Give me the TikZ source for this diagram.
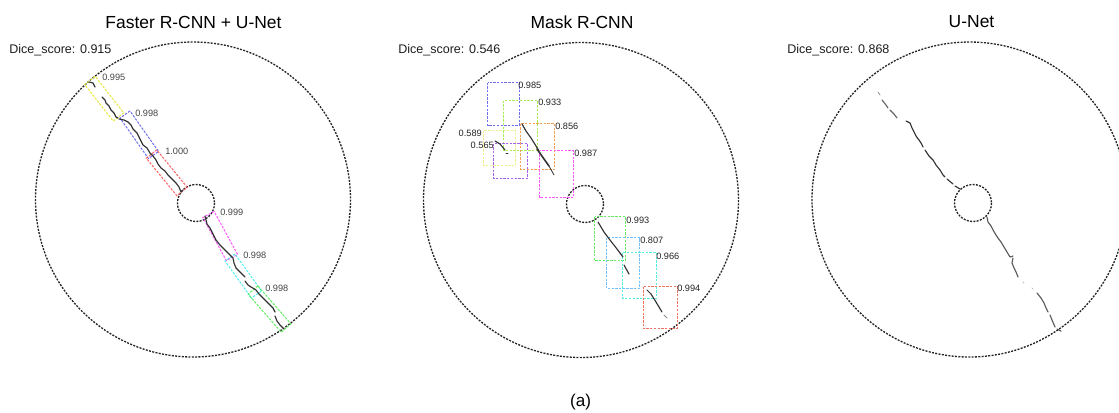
\documentclass[tikz,border=0pt]{standalone}
\usepackage{fontspec}
\setmainfont{Liberation Sans}
\usetikzlibrary{calc}
\definecolor{cyel}{HTML}{E8E840}
\definecolor{cblu}{HTML}{6E6EEE}
\definecolor{cred}{HTML}{FF6060}
\definecolor{cmag}{HTML}{FF55FF}
\definecolor{ccya}{HTML}{50F0F0}
\definecolor{cgrn}{HTML}{60EE60}
\definecolor{cchar}{HTML}{A8EE50}
\definecolor{corg}{HTML}{F5A055}
\definecolor{clyel}{HTML}{EEEE90}
\definecolor{cpur}{HTML}{A860EE}
\definecolor{clblu}{HTML}{70C0FF}
\definecolor{caqua}{HTML}{50EEDD}
\definecolor{csal}{HTML}{F07060}
\newcommand{\crackbox}[4]{%
  \draw[bbox,#1] ($(#2)!#4!90:(#3)$) -- ($(#2)!#4!-90:(#3)$) -- ($(#3)!#4!90:(#2)$) -- ($(#3)!#4!-90:(#2)$) -- cycle;}
\begin{document}
\begin{tikzpicture}[x=0.75pt,y=-0.75pt,
  paneltitle/.style={font=\fontsize{13.1pt}{15pt}\selectfont, text=black, inner sep=0pt},
  dice/.style={font=\fontsize{9.4pt}{11pt}\selectfont, text=black!88, inner sep=0pt, anchor=west},
  scorelbl/.style={font=\fontsize{6.9pt}{8pt}\selectfont, text=black!72, inner sep=0pt},
  bigc/.style={draw=black!85, line width=1pt, dash pattern=on 1.5pt off 1pt},
  bbox/.style={line width=0.75pt, dash pattern=on 1.8pt off 1pt},
  crack/.style={draw=black!80, line width=0.85pt, line join=round, line cap=round},
  fcrack/.style={draw=black!45, line width=0.6pt, line cap=round}]
\useasboundingbox (0,0) rectangle (1119,412);
\clip (0,0) rectangle (1119,412);
\fill[white] (0,0) rectangle (1119,412);

% titles
\node[paneltitle] (t1) at (193.5,22) {Faster R-CNN + U-Net};
\node[paneltitle] (t2) at (582,22) {Mask R-CNN};
\node[paneltitle] (t3) at (971.5,22) {U-Net};
\node[dice] (d1) at (9,50) {Dice\_score: 0.915};
\node[dice] (d2) at (398,50) {Dice\_score: 0.546};
\node[dice] (d3) at (787,50) {Dice\_score: 0.868};
\node[paneltitle, font=\fontsize{12.8pt}{15pt}\selectfont] (cap) at (580.5,402) {(a)};

% circles
\coordinate (c1) at (193,199.5);
\coordinate (c2) at (581,200);
\coordinate (c3) at (969.5,199.5);
\coordinate (h1) at (196,203);
\coordinate (h2) at (585,204);
\coordinate (h3) at (973,203);
\draw[bigc] (c1) circle[radius=157.5];
\draw[bigc] (c2) circle[radius=157.5];
\draw[bigc] (c3) circle[radius=157.5];
\draw[bigc] (h1) circle[radius=18.5];
\draw[bigc] (h2) circle[radius=18.5];
\draw[bigc] (h3) circle[radius=18.5];

% ---------- panel 1 ----------
\coordinate (ya) at (90,80.5);   \coordinate (yb) at (118.5,117);
\coordinate (ba) at (125,114.5); \coordinate (bb) at (153.5,155);
\coordinate (ra) at (151.5,154); \coordinate (rb) at (182,191.5);
\coordinate (ma) at (208.5,214.5); \coordinate (mb) at (232,257.5);
\coordinate (ca) at (230,257.5); \coordinate (cb) at (256.5,294.5);
\coordinate (ga) at (253,290);   \coordinate (gb) at (286,328);
\crackbox{cyel}{ya}{yb}{5pt}
\crackbox{cblu}{ba}{bb}{4.6pt}
\crackbox{cred}{ra}{rb}{5pt}
\crackbox{cmag}{ma}{mb}{4.8pt}
\crackbox{ccya}{ca}{cb}{4.6pt}
\crackbox{cgrn}{ga}{gb}{4.8pt}
\node[scorelbl, anchor=west] (s11) at (102,77) {0.995};
\node[scorelbl, anchor=west] (s12) at (135,113) {0.998};
\node[scorelbl, anchor=west] (s13) at (165,151) {1.000};
\node[scorelbl, anchor=west] (s14) at (220,212) {0.999};
\node[scorelbl, anchor=west] (s15) at (243,255) {0.998};
\node[scorelbl, anchor=west] (s16) at (265,288) {0.998};
\draw[crack] (89,82) -- (93,83) -- (95,87);
\draw[crack] (102,97) -- (105,100) -- (106,103) -- (109,106) -- (111,110) -- (114,113) -- (116,117) -- (118,118);
\draw[crack] (119,119) -- (124,120) -- (128,122) -- (131,125) -- (133,129) -- (137,133) -- (139,137) -- (141,141) -- (143,145) -- (147,148) -- (150,153) -- (153,156) -- (156,160) -- (158,164) -- (161,168) -- (165,171) -- (168,175) -- (172,179) -- (176,183) -- (179,187) -- (181,192) -- (183,190);
\draw[crack] (205,216) -- (206,220) -- (207,224) -- (210,228) -- (212,232) -- (214,236) -- (216,240) -- (220,245) -- (224,249) -- (228,253) -- (231,256) -- (233,258) -- (234,263) -- (236,268) -- (239,271) -- (242,274) -- (245,277);
\draw[crack] (245,281) -- (248,285) -- (251,287) -- (256,290) -- (259,294) -- (262,297) -- (266,301) -- (270,305) -- (273,308) -- (275,312);
\draw[crack] (275,316) -- (277,321) -- (280,325) -- (283,328);

% ---------- panel 2 ----------
\draw[bbox,clyel] (483.5,130.5) rectangle (515.5,165.5);
\draw[bbox,cblu] (487.5,82.5) rectangle (519.5,125.5);
\draw[bbox,cchar] (503.5,100.5) rectangle (537.5,150.5);
\draw[bbox,corg] (520.5,123.5) rectangle (554.5,169.5);
\draw[bbox,cpur] (493.5,143.5) rectangle (527.5,178.5);
\draw[bbox,cmag] (539.5,150.5) rectangle (573.5,197.5);
\draw[bbox,cgrn] (594.5,216.5) rectangle (625.5,260.5);
\draw[bbox,clblu] (606.5,237.5) rectangle (639.5,288.5);
\draw[bbox,caqua] (622.5,252.5) rectangle (656.5,298.5);
\draw[bbox,csal] (643.5,286.5) rectangle (677.5,328.5);
\node[scorelbl, text=black!85, anchor=north west] (s21) at (518,82) {0.985};
\node[scorelbl, text=black!85, anchor=north west] (s22) at (538,99) {0.933};
\node[scorelbl, text=black!85, anchor=north west] (s23) at (555,123) {0.856};
\node[scorelbl, text=black!85, anchor=north east] (s24) at (482,130) {0.589};
\node[scorelbl, text=black!85, anchor=north east] (s25) at (494,142) {0.565};
\node[scorelbl, text=black!85, anchor=north west] (s26) at (574,150) {0.987};
\node[scorelbl, text=black!85, anchor=north west] (s27) at (626,217) {0.993};
\node[scorelbl, text=black!85, anchor=north west] (s28) at (640,237) {0.807};
\node[scorelbl, text=black!85, anchor=north west] (s29) at (656,253) {0.966};
\node[scorelbl, text=black!85, anchor=north west] (s210) at (677,285) {0.994};
\draw[crack] (495,141) -- (500,144) -- (505,150);
\draw[crack, line width=0.6pt] (506,153) -- (508,153);
\draw[crack] (522,124) -- (526,131) -- (531,138) -- (536,146) -- (539,151);
\draw[crack, line width=1.2pt] (537,149) -- (544,159) -- (549,166);
\draw[crack, line width=0.6pt] (549,166) -- (554,175);
\draw[crack] (598,222) -- (604,232) -- (610,240) -- (617,249) -- (623,257);
\draw[crack] (624,265) -- (629,274);
\draw[crack, line width=0.6pt] (647,290) -- (651,294);
\draw[crack] (651,294) -- (656,302) -- (662,312);
\draw[fcrack] (664,315) -- (667,318);

% ---------- panel 3 ----------
\draw[fcrack] (878,92) -- (880,95);
\draw[crack, draw=black!60] (882,100) -- (886,105) -- (888,108);
\draw[crack, draw=black!60] (890,110) -- (894,114) -- (897,118);
\draw[crack] (906,121) -- (910,123) -- (912,128) -- (914,132) -- (916,136) -- (919,140) -- (921,143) -- (923,147);
\draw[crack] (925,150) -- (929,156) -- (933,160) -- (936,165) -- (940,170) -- (943,175) -- (945,177);
\draw[crack] (947,179) -- (953,184);
\draw[crack] (955,186) -- (960,189);
\draw[crack, draw=black!65] (987,217) -- (988,222) -- (991,226) -- (993,230) -- (996,235) -- (998,238) -- (1001,242) -- (1004,247) -- (1007,252) -- (1010,257) -- (1013,256);
\draw[crack, draw=black!65] (1013,258) -- (1012,263) -- (1014,268) -- (1016,272) -- (1018,277);
\draw[fcrack, draw=black!25] (1023,282) -- (1024,283);
\draw[fcrack, draw=black!25] (1032,288) -- (1033,289);
\draw[crack, draw=black!65] (1037,293) -- (1041,298) -- (1044,303) -- (1046,308) -- (1048,312);
\draw[crack, draw=black!65] (1050,315) -- (1052,320) -- (1055,327);
\draw[crack, draw=black!65] (1057,329) -- (1061,331);
\end{tikzpicture}
\end{document}
